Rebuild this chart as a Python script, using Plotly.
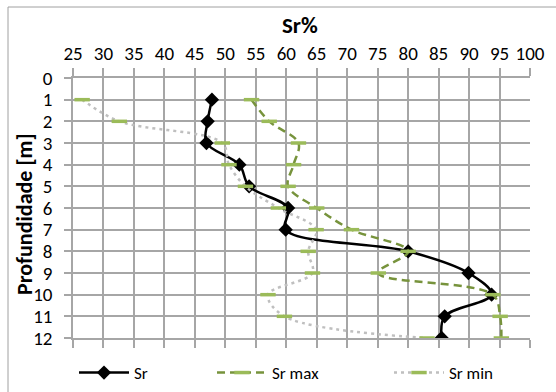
import plotly.graph_objects as go

depth = [1, 2, 3, 4, 5, 6, 7, 8, 9, 10, 11, 12]
sr = [47.8, 47.1, 46.9, 52.3, 53.9, 60.3, 59.9, 80.0, 89.9, 93.7, 86.0, 85.5]
sr_max = [54.3, 57.2, 62.0, 61.2, 60.3, 65.0, 70.7, 80.0, 75.1, 93.9, 95.1, 95.3]
sr_min = [26.5, 32.6, 49.5, 50.6, 53.3, 58.7, 64.9, 63.6, 64.3, 57.0, 59.7, 83.1]

x_ticks = list(range(25, 101, 5))
y_ticks = list(range(0, 13))

FONT = "Carlito, Lato, sans-serif"
GREEN_LINE = "#77933C"
GREEN_MARK = "#9BBB59"

W, H = 556, 392
L, R, T, B = 73, 26, 78, 54
PW, PH = W - L - R, H - T - B

def px(xp):
    return (xp - L) / PW

def py(yp):
    return (H - B - yp) / PH

fig = go.Figure()
fig.add_trace(go.Scatter(
    x=sr, y=depth, name="Sr", mode="lines+markers", legend="legend", showlegend=True,
    line=dict(color="black", width=2.5, shape="spline", smoothing=1),
    marker=dict(symbol="diamond", size=11, color="black"),
))
fig.add_trace(go.Scatter(
    x=sr_max, y=depth, name="Sr max", mode="lines+markers", legend="legend2", showlegend=True,
    line=dict(color=GREEN_LINE, width=2.5, dash="8px,5px", shape="spline", smoothing=1),
    marker=dict(symbol="line-ew-open", size=11, color=GREEN_MARK,
                line=dict(color=GREEN_MARK, width=3.5)),
))
fig.add_trace(go.Scatter(
    x=sr_min, y=depth, name="Sr min", mode="lines+markers", legend="legend3", showlegend=True,
    line=dict(color="#BFBFBF", width=2.5, dash="3px,4px", shape="spline", smoothing=1),
    marker=dict(symbol="line-ew-open", size=11, color=GREEN_MARK,
                line=dict(color=GREEN_MARK, width=3.5)),
))

legend_common = dict(orientation="h", yanchor="middle", xanchor="left",
                     y=py(373), bgcolor="rgba(0,0,0,0)",
                     font=dict(family=FONT, size=17, color="black"),
                     itemwidth=50, borderwidth=0)

fig.update_layout(
    width=W, height=H,
    margin=dict(l=L, r=R, t=T, b=B, pad=0, autoexpand=False),
    paper_bgcolor="white", plot_bgcolor="white",
    font=dict(family=FONT, color="black"),
    showlegend=True,
    legend=dict(x=px(74), **legend_common),
    legend2=dict(x=px(212), **legend_common),
    legend3=dict(x=px(389), **legend_common),
    xaxis=dict(
        side="top", range=[25, 100], tickvals=x_ticks, ticktext=[str(v) for v in x_ticks],
        showgrid=True, gridcolor="#A6A6A6", gridwidth=1.5,
        showline=True, linecolor="#A6A6A6", linewidth=1.5, mirror="ticks",
        ticks="outside", ticklen=8, tickcolor="#A6A6A6", tickwidth=1.5,
        tickfont=dict(family=FONT, size=19, color="black"),
        zeroline=False, ticklabelstandoff=1, automargin=False,
    ),
    yaxis=dict(
        range=[12, 0], tickvals=y_ticks, ticktext=[str(v) for v in y_ticks],
        showgrid=True, gridcolor="#A6A6A6", gridwidth=1.5,
        showline=True, linecolor="#A6A6A6", linewidth=1.5,
        ticks="outside", ticklen=7, tickcolor="#A6A6A6", tickwidth=1.5,
        tickfont=dict(family=FONT, size=19, color="black"),
        zeroline=False, ticklabelstandoff=8, automargin=False,
    ),
    shapes=[dict(type="rect", xref="paper", yref="paper",
                 x0=px(8), x1=px(600), y0=py(430), y1=py(7),
                 line=dict(color="#A0A0A0", width=1), fillcolor="rgba(0,0,0,0)", layer="below")],
    annotations=[
        dict(text="<b>Sr%</b>", xref="paper", yref="paper", x=px(300), y=py(25),
             xanchor="center", yanchor="middle", showarrow=False,
             font=dict(family=FONT, size=23, color="black")),
        dict(text="<b>Profundidade [m]</b>", xref="paper", yref="paper", x=px(25), y=py(214),
             xanchor="center", yanchor="middle", showarrow=False, textangle=-90,
             font=dict(family=FONT, size=22, color="black")),
    ],
)

fig.write_html("out.html", config={"displayModeBar": False},
               post_script="document.body.style.margin='0';document.body.style.padding='0';")
